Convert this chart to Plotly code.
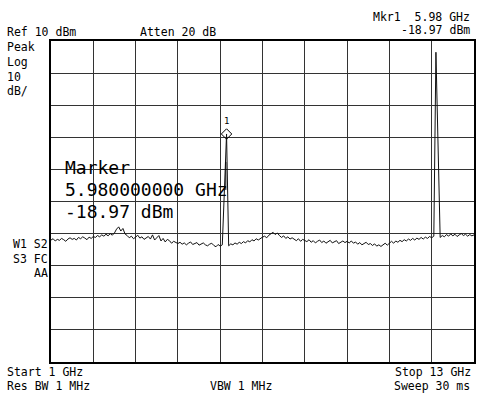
import numpy as np
import plotly.graph_objects as go

# ---- data ----
start_ghz = 1.0
stop_ghz = 13.0
ref_dbm = 10
db_per_div = 10
marker_freq = [5.98]
marker_dbm = [-18.97]

trace_dbm = [
    # 1.00 - 5.86 GHz
    -52.0, -51.6, -52.3, -51.8, -52.1, -51.5, -51.9, -52.4, -51.7, -51.3, -51.8,
    -51.5, -52.0, -51.2, -51.6, -51.0, -51.4, -51.9, -51.1, -51.5, -50.9,
    -51.2, -50.6, -51.0, -50.4, -50.8, -50.2, -50.7, -50.0, -50.5, -49.8, -48.6,
    -47.9, -49.2, -48.4, -50.1,
    -50.6, -51.3, -50.8, -51.6, -51.1, -50.5, -51.4, -51.0, -51.8, -51.3,
    -50.9, -51.7, -50.4, -52.0, -51.2, -50.6, -52.3, -51.5, -52.6, -51.8, -52.2,
    -53.0, -52.4, -52.8, -53.1,
    -52.7, -53.3, -52.9, -53.5, -53.0, -52.6, -53.4, -53.1, -52.8, -53.6, -53.2,
    -52.9, -53.5, -53.8, -53.3, -53.0, -53.7, -54.1, -53.4, -53.9, -53.5,
    # 5.92, 5.98 GHz
    -36.4, -18.97,
    # 6.04 - 11.86 GHz
    -53.8, -53.2, -53.5, -52.9, -53.3, -52.7, -53.1, -52.5, -52.9, -52.2, -52.6,
    -51.9, -52.3, -51.6, -52.0, -51.4, -51.1,
    -50.8, -51.3, -50.5, -50.0, -49.6, -50.3, -49.8, -50.6, -51.2, -50.7, -51.5,
    -51.0, -51.7, -51.3, -51.9, -52.2, -51.6, -52.4, -51.8, -52.1,
    -52.5, -51.9, -52.7, -52.2, -52.9, -52.4, -52.0, -52.8, -52.3, -53.0, -52.5,
    -52.1, -52.9, -52.6, -52.2, -53.1, -52.7, -52.3, -52.8, -52.4,
    -52.9, -52.3, -53.0, -52.6, -53.3, -52.8, -53.5, -53.0, -52.7, -53.4, -53.1,
    -53.7, -53.2, -53.9, -53.5, -54.0, -53.4, -53.0, -53.6, -52.9, -52.4, -53.0,
    -52.3, -52.7, -52.1,
    -52.5, -51.9, -52.3, -51.7, -52.1, -51.5, -52.0, -51.4, -51.8, -51.2, -51.7,
    -51.1, -51.5, -50.9, -51.3, -50.8,
    # 11.92, 11.98 GHz
    6.5, -21.8,
    # 12.04 - 13.00 GHz
    -51.2, -50.6, -51.0, -50.3, -50.8, -50.1, -50.7, -50.2, -50.9, -50.4, -50.0,
    -50.6, -50.2, -50.8, -50.3, -50.7, -50.4,
]
trace_freq = np.linspace(start_ghz, stop_ghz, len(trace_dbm))

seg_freq = [5.96, 5.96]
seg_dbm = [-27.7, -36.4]

# ---- layout helpers ----
L, R, T, B = 51, 2, 41, 36
W, H = 478, 398
PW, PH = W - L - R, H - T - B
MONO = "DejaVu Sans Mono"


def ann(text, px, py, anchor="left", size=11.5):
    return dict(
        text=text, x=(px - L) / PW, y=(H - B - py) / PH,
        xref="paper", yref="paper", xanchor=anchor, yanchor="middle",
        showarrow=False, font=dict(family=MONO, size=size, color="black"),
        borderpad=0,
    )


fig = go.Figure()
fig.add_trace(go.Scatter(x=trace_freq, y=trace_dbm, mode="lines",
                         line=dict(color="#111111", width=1), hoverinfo="skip"))
fig.add_trace(go.Scatter(x=seg_freq, y=seg_dbm, mode="lines",
                         line=dict(color="black", width=1), hoverinfo="skip"))
fig.add_trace(go.Scatter(x=marker_freq, y=marker_dbm, mode="markers",
                         marker=dict(symbol="diamond-open", size=8, color="black",
                                     line=dict(width=1, color="black")),
                         hoverinfo="skip"))

annotations = [
    ann("Ref 10 dBm", 6, 32),
    ann("Atten 20 dB", 139, 32),
    ann("Mkr1  5.98 GHz", 473, 17, "right"),
    ann("-18.97 dBm", 473, 30, "right"),
    ann("Peak", 6, 47),
    ann("Log", 6, 62),
    ann("10", 6, 77),
    ann("dB/", 6, 91),
    ann("W1 S2", 49, 244, "right"),
    ann("S3 FC", 49, 259, "right"),
    ann("AA", 49, 273, "right"),
    ann("Start 1 GHz", 6, 372),
    ann("Res BW 1 MHz", 6, 386),
    ann("VBW 1 MHz", 242, 386, "center"),
    ann("Stop 13 GHz", 474, 372, "right"),
    ann("Sweep 30 ms", 473, 386, "right"),
    ann("Marker", 64, 167, size=18),
    ann("5.980000000 GHz", 64, 189, size=18),
    ann("-18.97 dBm", 64, 212, size=18),
    dict(text="1", x=marker_freq[0], y=marker_dbm[0], xref="x", yref="y",
         showarrow=False, yshift=13, font=dict(family=MONO, size=9, color="black")),
]

fig.update_layout(
    width=W, height=H, margin=dict(l=L, r=R, t=T, b=B, pad=0),
    paper_bgcolor="white", plot_bgcolor="white", showlegend=False,
    annotations=annotations,
    xaxis=dict(range=[start_ghz, stop_ghz], tick0=start_ghz,
               dtick=(stop_ghz - start_ghz) / 10, showticklabels=False, ticks="",
               showgrid=True, gridcolor="#333333", gridwidth=1, zeroline=False,
               showline=True, mirror=True, linecolor="black", linewidth=2,
               fixedrange=True),
    yaxis=dict(range=[ref_dbm - 10 * db_per_div, ref_dbm], tick0=ref_dbm,
               dtick=db_per_div, showticklabels=False, ticks="",
               showgrid=True, gridcolor="#333333", gridwidth=1, zeroline=False,
               showline=True, mirror=True, linecolor="black", linewidth=2,
               fixedrange=True),
)

fig.write_html(
    "out.html",
    config={"displayModeBar": False},
    post_script="document.body.style.margin='0';document.body.style.overflow='hidden';",
)
